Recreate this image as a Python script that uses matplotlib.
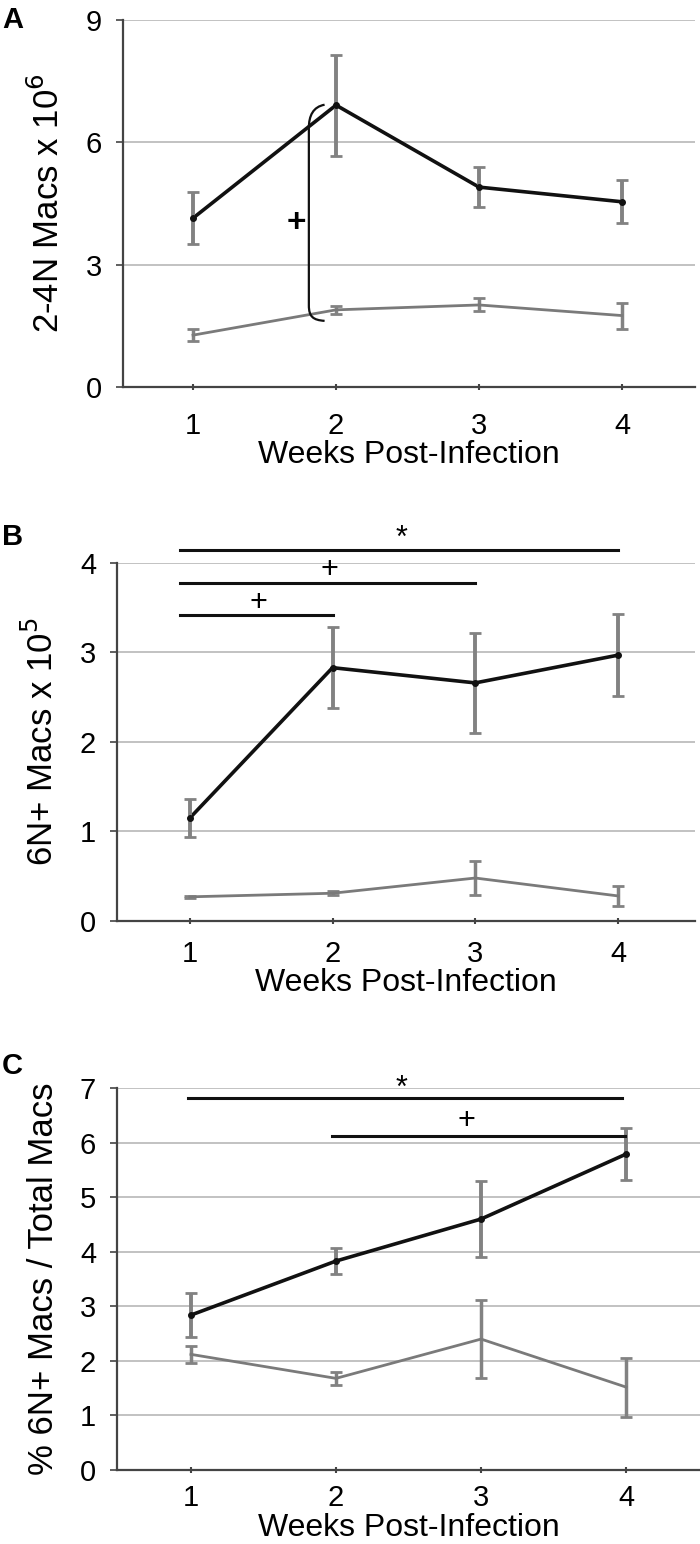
import matplotlib
matplotlib.use("Agg")
import matplotlib.pyplot as plt
from matplotlib.path import Path
from matplotlib.patches import PathPatch

FONT = ['Liberation Sans', 'DejaVu Sans']
plt.rcParams['font.family'] = FONT

weeks = [1, 2, 3, 4]
week_labels = ["1", "2", "3", "4"]

# Panel A: 2-4N Macs x 10^6
a_black = [4.14, 6.91, 4.9, 4.54]
a_black_err = [0.63, 1.24, 0.5, 0.53]
a_gray = [1.27, 1.89, 2.01, 1.75]
a_gray_err = [0.14, 0.09, 0.16, 0.32]

# Panel B: 6N+ Macs x 10^5
b_black = [1.15, 2.83, 2.66, 2.97]
b_black_err = [0.21, 0.45, 0.56, 0.46]
b_gray = [0.27, 0.31, 0.48, 0.28]
b_gray_err = [0.01, 0.02, 0.19, 0.11]

# Panel C: % 6N+ Macs / Total Macs
c_black = [2.84, 3.83, 4.6, 5.79]
c_black_err = [0.4, 0.24, 0.69, 0.47]
c_gray = [2.12, 1.68, 2.4, 1.52]
c_gray_err = [0.15, 0.12, 0.71, 0.54]

BLACK = "#111111"
GRAY = "#7a7a7a"
ERR = "#828282"
GRID = "#b8b8b8"
SPINE = "#444444"

fig = plt.figure(figsize=(7.0, 15.44), dpi=100)

def setup(ax, ylim, yticks, ylabel, xlim, tickpad=14, labelpad=0):
    ax.set_xlim(*xlim)
    ax.set_ylim(*ylim)
    ax.set_yticks(yticks)
    ax.set_yticklabels([str(t) for t in yticks], fontsize=21)
    ax.set_xticks(weeks)
    ax.set_xticklabels(week_labels, fontsize=21)
    ax.yaxis.grid(True, color=GRID, lw=1.2)
    ax.set_axisbelow(True)
    for s in ["top", "right"]:
        ax.spines[s].set_visible(False)
    for s in ["left", "bottom"]:
        ax.spines[s].set_color(SPINE)
        ax.spines[s].set_linewidth(1.6)
    ax.tick_params(axis='x', direction='inout', length=4, width=1.5, color=SPINE, pad=tickpad)
    ax.tick_params(axis='y', direction='out', length=5, width=1.2, color=SPINE, pad=10)
    ax.set_xlabel("Weeks Post-Infection", fontsize=23, labelpad=labelpad)
    ax.set_ylabel(ylabel, fontsize=25, labelpad=14)

def draw(ax, black, black_err, gray, gray_err):
    ax.errorbar(weeks, gray, yerr=gray_err, color=GRAY, lw=2.0, ecolor=ERR,
                elinewidth=2.5, capsize=4.5, capthick=2.0, zorder=3)
    ax.plot(weeks, black, color=BLACK, lw=2.6, zorder=4)
    ax.errorbar(weeks, black, yerr=black_err, fmt='none', ecolor=ERR,
                elinewidth=2.8, capsize=4.5, capthick=2.0, zorder=5)
    ax.plot(weeks, black, 'o', color=BLACK, ms=4, zorder=6)

def sigbar(ax, x0, x1, y, txt, tx, ty):
    ax.plot([x0, x1], [y, y], color=BLACK, lw=2.2, clip_on=False, zorder=6)
    ax.text(tx, ty, txt, ha='center', va='center', fontsize=22, clip_on=False)

# Panel A
axA = fig.add_axes([0.1757, 0.7494, 0.817, 0.2377])
setup(axA, (0, 9), [0, 3, 6, 9], r"2-4N Macs x 10$^{6}$", (0.51, 4.51), tickpad=16)
draw(axA, a_black, a_black_err, a_gray, a_gray_err)
verts = [(1.92, 6.92), (1.84, 6.87), (1.81, 6.65), (1.81, 6.35),
         (1.81, 2.0),
         (1.81, 1.72), (1.84, 1.64), (1.92, 1.62)]
codes = [Path.MOVETO, Path.CURVE4, Path.CURVE4, Path.CURVE4,
         Path.LINETO, Path.CURVE4, Path.CURVE4, Path.CURVE4]
axA.add_patch(PathPatch(Path(verts, codes), fill=False, lw=1.6, color=BLACK, zorder=7))
axA.text(1.72, 4.0, "+", ha='center', va='center', fontsize=24, fontweight='bold')
fig.text(0.003, 0.996, "A", fontsize=21, fontweight='bold', va='top', ha='left')

# Panel B
axB = fig.add_axes([0.1671, 0.4035, 0.826, 0.2319])
setup(axB, (0, 4), [0, 1, 2, 3, 4], r"6N+ Macs x 10$^{5}$", (0.49, 4.54), tickpad=12)
draw(axB, b_black, b_black_err, b_gray, b_gray_err)
sigbar(axB, 0.93, 4.0, 4.15, "*", 2.48, 4.27)
sigbar(axB, 0.93, 3.0, 3.78, "+", 1.98, 3.92)
sigbar(axB, 0.93, 2.0, 3.42, "+", 1.48, 3.55)
fig.text(0.003, 0.6615, "B", fontsize=21, fontweight='bold', va='top', ha='left')

# Panel C
axC = fig.add_axes([0.1671, 0.0479, 0.833, 0.2474])
setup(axC, (0, 7), [0, 1, 2, 3, 4, 5, 6, 7], "% 6N+ Macs / Total Macs", (0.49, 4.51),
      tickpad=8, labelpad=1)
draw(axC, c_black, c_black_err, c_gray, c_gray_err)
sigbar(axC, 0.98, 3.97, 6.82, "*", 2.45, 6.98)
sigbar(axC, 1.97, 3.99, 6.12, "+", 2.9, 6.4)
fig.text(0.003, 0.3185, "C", fontsize=21, fontweight='bold', va='top', ha='left')

fig.savefig("out.png", dpi=100)
